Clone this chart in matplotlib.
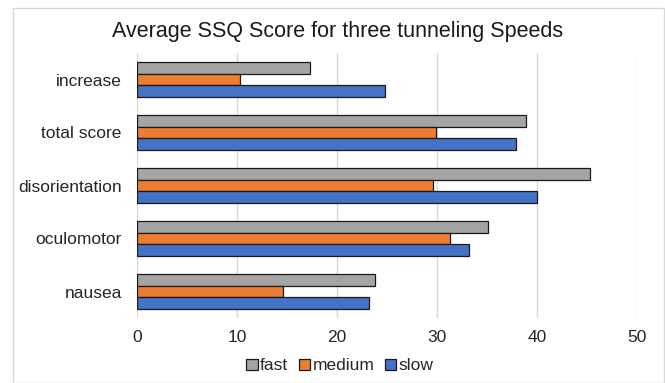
import matplotlib.pyplot as plt
import numpy as np
from matplotlib.patches import Rectangle

plt.rcParams['font.family'] = ['Liberation Sans', 'DejaVu Sans']

categories = ["nausea", "oculomotor", "disorientation", "total score", "increase"]
series_names = ["fast", "medium", "slow"]
fast = [23.8, 35.1, 45.3, 38.9, 17.3]
medium = [14.6, 31.3, 29.6, 29.9, 10.3]
slow = [23.2, 33.2, 40.0, 37.9, 24.8]
x_ticks = [0, 10, 20, 30, 40, 50]

colors = ["#A5A5A5", "#ED7D31", "#4472C4"]
text_color = "#262626"

W, H = 665, 383
fig = plt.figure(figsize=(W / 100, H / 100), dpi=100)
fig.patch.set_facecolor("white")

# outer chart frame
fig.patches.append(Rectangle((13 / W, 0), (W - 14) / W, (H - 8) / H,
                             transform=fig.transFigure, fill=False,
                             edgecolor="#D9D9D9", linewidth=1.0))

ax = fig.add_axes([137 / W, 1 - 318 / H, (637 - 137) / W, (318 - 53) / H])

y = np.arange(len(categories))
h = 0.215
for i, (vals, name, c) in enumerate(zip([fast, medium, slow], series_names, colors)):
    ax.barh(y + (1 - i) * h, vals, height=h, color=c, edgecolor="#1a1a1a",
            linewidth=0.9, label=name, zorder=3)

ax.set_xlim(0, 50)
ax.set_ylim(-0.5, len(categories) - 0.5)
ax.set_xticks(x_ticks)
ax.set_xticklabels([str(t) for t in x_ticks], fontsize=12.5, color=text_color)
ax.set_yticks(y)
ax.set_yticklabels(categories, fontsize=12.5, color=text_color)
ax.tick_params(length=0)
ax.tick_params(axis="x", pad=9)
ax.tick_params(axis="y", pad=11)
ax.grid(axis="x", color="#D9D9D9", linewidth=1.0, zorder=0)
for s in ax.spines.values():
    s.set_visible(False)

fig.text(338 / W, 1 - 31 / H, "Average SSQ Score for three tunneling Speeds",
         ha="center", va="center", fontsize=15.5, color="#1a1a1a")

leg = fig.legend(loc="center", bbox_to_anchor=(340 / W, 1 - 366 / H), ncol=3,
                 frameon=False, fontsize=12.5, handlelength=0.65, handleheight=0.65,
                 handletextpad=0.15, columnspacing=0.6)
for t in leg.get_texts():
    t.set_color(text_color)

fig.savefig("out.png", dpi=100)
